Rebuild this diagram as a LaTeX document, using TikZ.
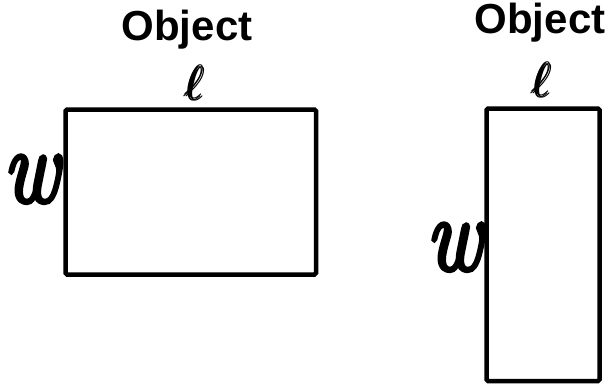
\documentclass[tikz,border=0pt]{standalone}
\usepackage{amsmath}
\usepackage{fontspec}
\setsansfont{Liberation Sans}
\newfontfamily\wfont[FakeBold=4]{Latin Modern Roman}
\usetikzlibrary{shadows}
\tikzset{
  objbox/.style={draw=black, line width=4.5pt, rounded corners=1.5pt, inner sep=0pt,
    drop shadow={shadow xshift=1pt, shadow yshift=-1.5pt, opacity=0.35, fill=gray}, fill=white},
  title/.style={font=\fontsize{42}{48}\selectfont\sffamily\bfseries, inner sep=0pt, anchor=base},
  elllab/.style={inner sep=0pt, anchor=base},
  wlab/.style={font=\fontsize{66}{70}\selectfont\wfont\itshape, inner sep=0pt, anchor=base east},
}
\begin{document}
\begin{tikzpicture}[x=1pt,y=-1pt]
\useasboundingbox (0,0) rectangle (614,386);
% left object
\node[objbox, minimum width=250.5pt, minimum height=165pt] (r1) at (190.75,192) {};
\node[title] (t1) at (187,40) {Object};
\node[elllab] (l1) at (195,100) {\scalebox{4.8}{$\pmb{\ell}$}};
\node[wlab] (w1) at (59,202) {\scalebox{1.3}[1.6]{w}};
% right object
\node[objbox, minimum width=113pt, minimum height=272.5pt] (r2) at (543,244.75) {};
\node[title] (t2) at (540,33) {Object};
\node[elllab] (l2) at (542,97) {\scalebox{4.8}{$\pmb{\ell}$}};
\node[wlab] (w2) at (482,270) {\scalebox{1.3}[1.6]{w}};
\end{tikzpicture}
\end{document}
